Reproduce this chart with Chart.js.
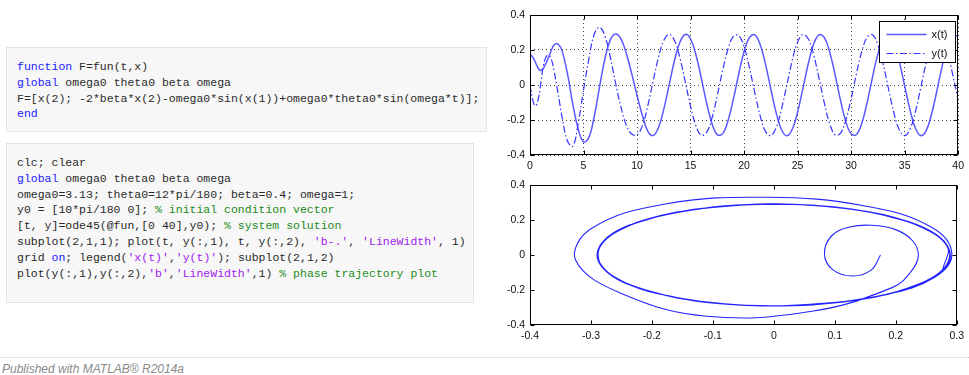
<!DOCTYPE html>
<html>
<head>
<meta charset="utf-8">
<script src="https://cdn.jsdelivr.net/npm/chart.js@4.4.1/dist/chart.umd.min.js"></script>
<style>
  html, body { margin:0; padding:0; background:#fff; width:969px; height:375px; overflow:hidden; }
  pre.code {
    position:absolute; box-sizing:border-box; margin:0;
    background:#f7f7f7; border:1px solid #e4e4e4;
    padding:11px 10px 0 10px;
    font-family:"Liberation Mono", "DejaVu Sans Mono", monospace;
    font-size:11.5px; line-height:15.8px; color:#2a2a2a;
    white-space:pre; overflow:hidden;
  }
  .kw { color:#1a1aff; }
  .str { color:#a020f0; }
  .cm { color:#228b22; }
  canvas { position:absolute; }
  #rule { position:absolute; left:0; top:357px; width:969px; border-top:1px dotted #c4c4c4; }
  #footer { position:absolute; left:2px; top:362px; font-family:"Liberation Sans", Arial, sans-serif;
            font-style:italic; font-size:12px; color:#8a8a8a; }
</style>
</head>
<body>
<pre class="code" style="left:6px; top:47px; width:481px; height:85px;"><span class="kw">function</span> F=fun(t,x)
<span class="kw">global</span> omega0 theta0 beta omega
F=[x(2); -2*beta*x(2)-omega0*sin(x(1))+omega0*theta0*sin(omega*t)];
<span class="kw">end</span></pre>
<pre class="code" style="left:6px; top:143px; width:468px; height:160px;">clc; clear
<span class="kw">global</span> omega0 theta0 beta omega
omega0=3.13; theta0=12*pi/180; beta=0.4; omega=1;
y0 = [10*pi/180 0]; <span class="cm">% initial condition vector</span>
[t, y]=ode45(@fun,[0 40],y0); <span class="cm">% system solution</span>
subplot(2,1,1); plot(t, y(:,1), t, y(:,2), <span class="str">'b-.'</span>, <span class="str">'LineWidth'</span>, 1)
grid <span class="kw">on</span>; legend(<span class="str">'x(t)'</span>,<span class="str">'y(t)'</span>); subplot(2,1,2)
plot(y(:,1),y(:,2),<span class="str">'b'</span>,<span class="str">'LineWidth'</span>,1) <span class="cm">% phase trajectory plot</span></pre>

<canvas id="timeChart" width="489" height="172" style="left:480px; top:0px;"></canvas>
<canvas id="phaseChart" width="489" height="172" style="left:480px; top:170px;"></canvas>

<div id="rule"></div>
<div id="footer">Published with MATLAB® R2014a</div>

<script>
// time samples (finer over the first spiral)
const tValues = [0,0.25,0.5,0.75,1,1.25,1.5,1.75,2,2.25,2.5,2.75,3,3.5,4,4.5,5,5.5,6,6.5,7,7.5,8,8.5,9,9.5,
  10,10.5,11,11.5,12,12.5,13,13.5,14,14.5,15,15.5,16,16.5,17,17.5,18,18.5,19,19.5,
  20,20.5,21,21.5,22,22.5,23,23.5,24,24.5,25,25.5,26,26.5,27,27.5,28,28.5,29,29.5,
  30,30.5,31,31.5,32,32.5,33,33.5,34,34.5,35,35.5,36,36.5,37,37.5,38,38.5,39,39.5,40];

// x(t) - solid line
const xSeries = [0.175,0.160,0.130,0.097,0.083,0.095,0.125,0.160,0.200,0.228,0.237,0.225,0.195,
  0.065,-0.110,-0.250,-0.325,-0.300,-0.180,-0.010,0.150,0.258,0.292,0.264,0.180,0.065,
  -0.060,-0.174,-0.264,-0.289,-0.244,-0.138,0.001,0.140,0.244,0.289,
  0.263,0.173,0.040,-0.103,-0.220,-0.284,-0.278,-0.204,-0.081,0.063,
  0.191,0.272,0.287,0.231,0.119,-0.023,-0.159,-0.256,-0.290,-0.253,
  -0.155,-0.018,0.123,0.234,0.287,0.271,0.188,0.059,-0.085,-0.208,
  -0.279,-0.283,-0.218,-0.099,0.045,0.177,0.265,0.289,0.242,0.135,
  -0.004,-0.142,-0.246,-0.289,-0.262,-0.170,-0.037,0.105,0.222,0.284,0.277];

// y(t) - dash-dot line
const ySeries = [0.000,-0.085,-0.120,-0.085,0.005,0.110,0.160,0.170,0.145,0.080,-0.005,-0.095,-0.185,
  -0.320,-0.350,-0.220,-0.030,0.150,0.290,0.330,0.280,0.160,0.010,-0.127,-0.230,-0.280,
  -0.285,-0.232,-0.120,0.022,0.157,0.255,0.290,0.254,0.156,0.019,
  -0.122,-0.233,-0.287,-0.271,-0.189,-0.060,0.084,0.206,0.278,0.283,
  0.218,0.099,-0.043,-0.175,-0.265,-0.289,-0.243,-0.137,0.002,0.141,
  0.245,0.289,0.263,0.172,0.039,-0.104,-0.221,-0.284,-0.277,-0.202,
  -0.079,0.065,0.192,0.273,0.287,0.230,0.117,-0.024,-0.160,-0.256,
  -0.290,-0.253,-0.154,-0.017,0.124,0.235,0.288,0.270,0.187,0.057,-0.086];

const seriesNames = ['x(t)', 'y(t)'];

// tick labels
const tTicks = [0,5,10,15,20,25,30,35,40];
const ampTicks = [-0.4,-0.2,0,0.2,0.4];
const phaseXTicks = [-0.4,-0.3,-0.2,-0.1,0,0.1,0.2,0.3];

const tickFont = { family: "'Liberation Sans', Arial, sans-serif", size: 10.5 };
const fmt = v => String(Math.round(v * 10) / 10);

// MATLAB-like axes box with inward ticks
const axesBox = {
  id: 'axesBox',
  afterDraw(chart) {
    const ctx = chart.ctx, a = chart.chartArea;
    const x = chart.scales.x, y = chart.scales.y;
    const L = Math.round(a.left) + 0.5, R = Math.round(a.right) - 0.5;
    const T = Math.round(a.top) + 0.5, B = Math.round(a.bottom) - 0.5;
    ctx.save();
    ctx.strokeStyle = '#000';
    ctx.lineWidth = 1;
    ctx.beginPath();
    x.ticks.forEach(t => {
      const px = Math.round(x.getPixelForValue(t.value)) + 0.5;
      ctx.moveTo(px, B); ctx.lineTo(px, B - 4);
      ctx.moveTo(px, T); ctx.lineTo(px, T + 4);
    });
    y.ticks.forEach(t => {
      const py = Math.round(y.getPixelForValue(t.value)) + 0.5;
      ctx.moveTo(L, py); ctx.lineTo(L + 4, py);
      ctx.moveTo(R, py); ctx.lineTo(R - 4, py);
    });
    ctx.stroke();
    ctx.strokeRect(L, T, R - L, B - T);
    ctx.restore();
  }
};

// boxed legend inside the axes, upper right
const boxLegend = {
  id: 'boxLegend',
  afterDraw(chart) {
    if (chart.canvas.id !== 'timeChart') return;
    const ctx = chart.ctx, a = chart.chartArea;
    const w = 76, h = 41;
    const left = Math.round(a.right) - 3 - w + 0.5, top = Math.round(a.top) + 6 + 0.5;
    ctx.save();
    ctx.fillStyle = '#fff';
    ctx.fillRect(left, top, w, h);
    ctx.strokeStyle = '#000';
    ctx.lineWidth = 1;
    ctx.strokeRect(left, top, w, h);
    ctx.font = "11px 'Liberation Sans', Arial, sans-serif";
    ctx.textBaseline = 'middle';
    chart.data.datasets.forEach((ds, i) => {
      const yy = Math.round(top + 12 + i * 19) + 0.5;
      ctx.strokeStyle = ds.borderColor;
      ctx.lineWidth = ds.borderWidth;
      ctx.setLineDash(ds.borderDash || []);
      ctx.beginPath();
      ctx.moveTo(left + 7, yy);
      ctx.lineTo(left + 47, yy);
      ctx.stroke();
      ctx.setLineDash([]);
      ctx.fillStyle = '#111';
      ctx.fillText(ds.label, left + 52, yy);
    });
    ctx.restore();
  }
};

function axisOpts(ticksArr, min, max, grid, isX) {
  return {
    type: 'linear',
    min: min, max: max,
    afterBuildTicks: s => { s.ticks = ticksArr.map(v => ({ value: v })); },
    afterFit: s => { if (isX) s.height = 17; else s.width = 50; },
    ticks: { font: tickFont, color: '#111', padding: 5, autoSkip: false, maxRotation: 0,
             callback: v => fmt(v) },
    grid: grid
      ? { display: true, drawOnChartArea: true, drawTicks: false, color: 'rgba(0,0,0,0.75)', lineWidth: 1 }
      : { display: false, drawTicks: false },
    border: { display: false, dash: grid ? [1, 3] : [] }
  };
}

const baseOpts = {
  responsive: false,
  animation: false,
  devicePixelRatio: 1,
  layout: { padding: { top: 15, right: 9, left: 0, bottom: 0 } },
  plugins: { legend: { display: false }, tooltip: { enabled: false } },
  elements: { point: { radius: 0 } }
};

new Chart(document.getElementById('timeChart').getContext('2d'), {
  type: 'scatter',
  data: {
    datasets: [{
      label: seriesNames[0],
      data: tValues.map((t, i) => ({ x: t, y: xSeries[i] })),
      showLine: true,
      borderColor: 'rgba(60,60,255,0.85)',
      borderWidth: 1.5,
      tension: 0.4,
      pointRadius: 0
    }, {
      label: seriesNames[1],
      data: tValues.map((t, i) => ({ x: t, y: ySeries[i] })),
      showLine: true,
      borderColor: 'rgba(30,30,255,0.9)',
      borderWidth: 1.2,
      borderDash: [7, 2.5, 1.5, 2.5],
      tension: 0.4,
      pointRadius: 0
    }]
  },
  options: Object.assign({}, baseOpts, {
    scales: {
      x: axisOpts(tTicks, 0, 40, true, true),
      y: axisOpts(ampTicks, -0.4, 0.4, true, false)
    }
  }),
  plugins: [axesBox, boxLegend]
});

new Chart(document.getElementById('phaseChart').getContext('2d'), {
  type: 'scatter',
  data: {
    datasets: [{
      label: 'phase',
      data: xSeries.map((v, i) => ({ x: v, y: ySeries[i] })),
      showLine: true,
      borderColor: 'rgba(25,25,255,0.95)',
      borderWidth: 1.1,
      tension: 0.4,
      pointRadius: 0
    }]
  },
  options: Object.assign({}, baseOpts, {
    scales: {
      x: axisOpts(phaseXTicks, -0.4, 0.3, false, true),
      y: axisOpts(ampTicks, -0.4, 0.4, false, false)
    }
  }),
  plugins: [axesBox]
});
</script>
</body>
</html>
